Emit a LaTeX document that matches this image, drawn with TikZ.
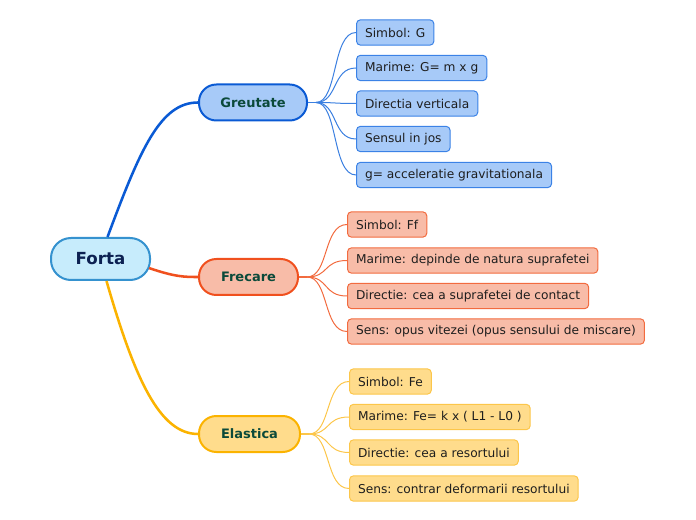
\documentclass[tikz,border=0pt]{standalone}
\usepackage{fontspec}
\setmainfont{DejaVu Sans}
\begin{document}
\begin{tikzpicture}[x=0.75pt,y=-0.75pt,
  rootbox/.style={draw=rootB,fill=rootF,line width=1.5pt,rounded corners=15pt,minimum width=74.25pt,minimum height=31.5pt,inner sep=0pt,font=\fontsize{12.5}{14}\selectfont\bfseries,text=rootT},
  branchbox/.style={line width=1.5pt,rounded corners=13pt,minimum height=27pt,inner sep=0pt,font=\fontsize{9.75}{12}\selectfont\bfseries,text=brT},
  leafbox/.style={line width=0.75pt,rounded corners=3pt,minimum height=19pt,inner xsep=6.4pt,inner ysep=0pt,anchor=west,font=\fontsize{9.15}{11}\selectfont,text=leafT},
  gleaf/.style={leafbox,draw=gB,fill=gF},
  fleaf/.style={leafbox,draw=fB,fill=fF},
  eleaf/.style={leafbox,draw=eB,fill=eF},
  gl/.style={draw=gL,line width=0.75pt},
  fl/.style={draw=fL,line width=0.75pt},
  el/.style={draw=eL,line width=0.75pt},
]
\definecolor{rootB}{HTML}{3592CF}
\definecolor{rootF}{HTML}{C7ECFC}
\definecolor{rootT}{HTML}{0C2152}
\definecolor{brT}{HTML}{0B4A3A}
\definecolor{leafT}{HTML}{1E1E1E}
\definecolor{gM}{HTML}{0A5AD4}
\definecolor{gF}{HTML}{A7CAF8}
\definecolor{gB}{HTML}{3B82E6}
\definecolor{gL}{HTML}{3A7FE0}
\definecolor{fM}{HTML}{F0501E}
\definecolor{fF}{HTML}{F8BCA8}
\definecolor{fB}{HTML}{F26B3F}
\definecolor{fL}{HTML}{F26B3F}
\definecolor{eM}{HTML}{FBB300}
\definecolor{eF}{HTML}{FFDC8C}
\definecolor{eB}{HTML}{FCC64A}
\definecolor{eL}{HTML}{FCC64A}
\useasboundingbox (0,0) rectangle (696,520);

% root
\node[rootbox] (forta) at (100.5,259) {Forta};
% branches
\node[branchbox,draw=gM,fill=gF,minimum width=81pt] (greu) at (253,102.5) {Greutate};
\node[branchbox,draw=fM,fill=fF,minimum width=74.25pt] (frec) at (248.5,277) {Frecare};
\node[branchbox,draw=eM,fill=eF,minimum width=75.75pt] (elas) at (249.5,434) {Elastica};

% leaves Greutate
\node[gleaf] (g1) at (356,32.5) {Simbol: G};
\node[gleaf] (g2) at (356,68) {Marime: G= m x g};
\node[gleaf] (g3) at (356,103.5) {Directia verticala};
\node[gleaf] (g4) at (356,139) {Sensul in jos};
\node[gleaf] (g5) at (356,175) {g= acceleratie gravitationala};
% leaves Frecare
\node[fleaf] (f1) at (347,224.5) {Simbol: Ff};
\node[fleaf] (f2) at (347,260.5) {Marime: depinde de natura suprafetei};
\node[fleaf] (f3) at (347,296) {Directie: cea a suprafetei de contact};
\node[fleaf] (f4) at (347,331.5) {Sens: opus vitezei (opus sensului de miscare)};
% leaves Elastica
\node[eleaf] (e1) at (349,381.5) {Simbol: Fe};
\node[eleaf] (e2) at (349,417) {Marime: Fe= k x ( L1 - L0 )};
\node[eleaf] (e3) at (349,452.5) {Directie: cea a resortului};
\node[eleaf] (e4) at (349,488.5) {Sens: contrar deformarii resortului};

% main connectors
\draw[gM,line width=1.9pt] (forta.north)++(7,0) .. controls (140,150) and (160,102.5) .. (greu.west);
\draw[fM,line width=1.9pt] (forta.east)++(-2,9) .. controls (175,277) and (185,277) .. (frec.west);
\draw[eM,line width=1.9pt] (forta.south)++(6,0) .. controls (135,380) and (160,434) .. (elas.west);

% leaf connectors
\coordinate (gj) at (316,102.5);
\draw[gL,line width=1pt] (greu.east) -- (gj);
\foreach \n in {g1,g2,g3,g4,g5}{
  \draw[gl] (gj) .. controls (338,102.5) and (332,0|-\n.west) .. (\n.west);
}
\coordinate (fj) at (307,277);
\draw[fL,line width=1pt] (frec.east) -- (fj);
\foreach \n in {f1,f2,f3,f4}{
  \draw[fl] (fj) .. controls (329,277) and (323,0|-\n.west) .. (\n.west);
}
\coordinate (ej) at (309,434);
\draw[eL,line width=1pt] (elas.east) -- (ej);
\foreach \n in {e1,e2,e3,e4}{
  \draw[el] (ej) .. controls (331,434) and (325,0|-\n.west) .. (\n.west);
}
\end{tikzpicture}
\end{document}
